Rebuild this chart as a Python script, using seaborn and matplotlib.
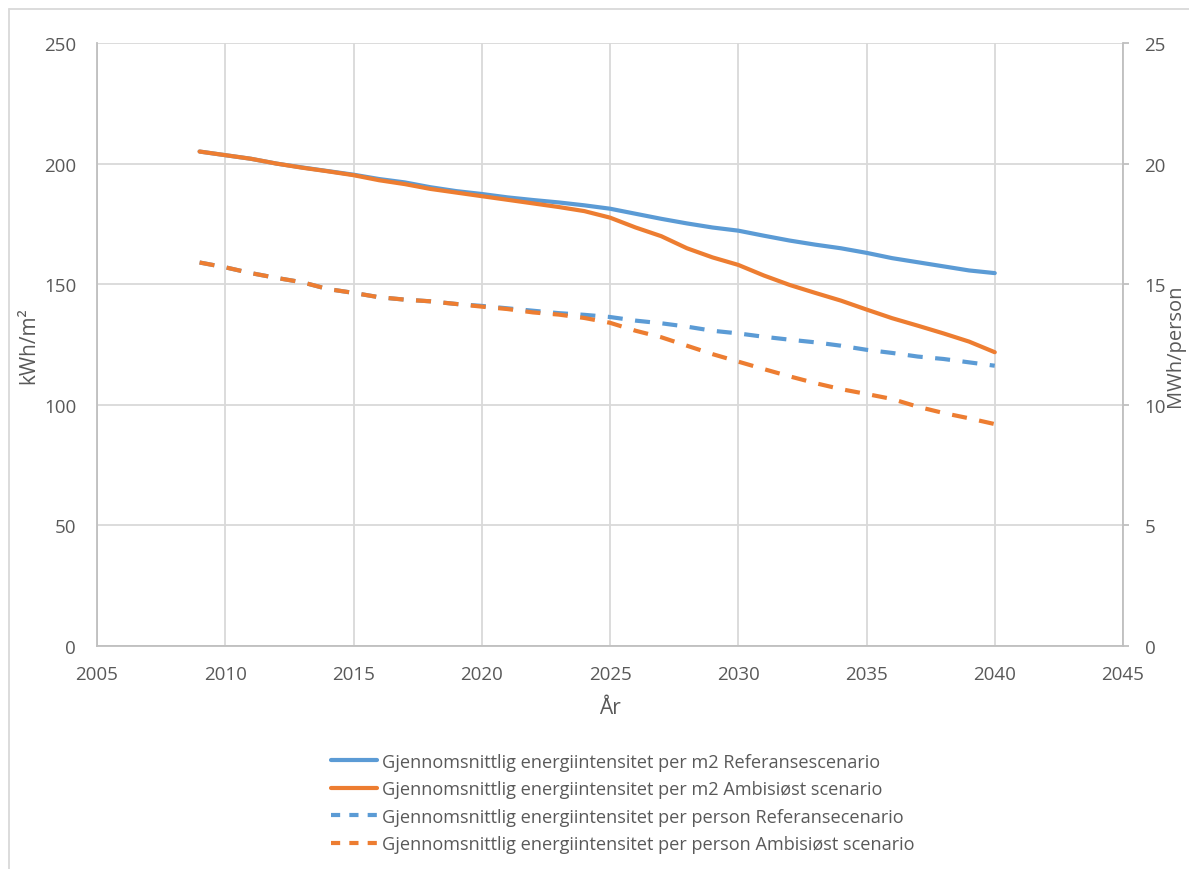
import numpy as np
import pandas as pd
import matplotlib
matplotlib.use("Agg")
import matplotlib.pyplot as plt
from matplotlib.lines import Line2D
import seaborn as sns

# data
years = list(range(2009, 2041))

ref_m2 = [205.0, 203.5, 202.0, 200.0, 198.4, 196.9, 195.4, 193.6, 192.2, 190.2,
          188.6, 187.4, 186.0, 184.9, 183.9, 182.7, 181.3, 179.2, 177.1, 175.2,
          173.5, 172.2, 170.1, 168.1, 166.4, 164.9, 163.0, 160.8, 159.1, 157.4,
          155.7, 154.6]
amb_m2 = [205.0, 203.5, 202.0, 200.0, 198.3, 196.8, 195.2, 193.1, 191.5, 189.5,
          188.0, 186.5, 185.0, 183.5, 182.0, 180.3, 177.6, 173.5, 169.9, 164.9,
          161.1, 158.0, 153.6, 149.7, 146.4, 143.2, 139.5, 135.9, 132.8, 129.6,
          126.2, 121.8]
ref_person = [15.9, 15.7, 15.46, 15.26, 15.08, 14.8, 14.64, 14.46, 14.36, 14.29,
              14.18, 14.1, 14.0, 13.9, 13.8, 13.73, 13.64, 13.49, 13.38, 13.24,
              13.07, 12.96, 12.82, 12.7, 12.59, 12.45, 12.28, 12.15, 12.0, 11.9,
              11.76, 11.62]
amb_person = [15.9, 15.7, 15.46, 15.26, 15.08, 14.8, 14.64, 14.46, 14.36, 14.29,
              14.18, 14.07, 13.97, 13.83, 13.74, 13.6, 13.4, 13.07, 12.8, 12.45,
              12.1, 11.79, 11.48, 11.18, 10.9, 10.65, 10.45, 10.24, 9.92, 9.66,
              9.44, 9.2]

labels = ["Gjennomsnittlig energiintensitet per m2 Referansescenario",
          "Gjennomsnittlig energiintensitet per m2 Ambisiøst scenario",
          "Gjennomsnittlig energiintensitet per person Referansecenario",
          "Gjennomsnittlig energiintensitet per person Ambisiøst scenario"]

blue = "#5B9BD5"
orange = "#ED7D31"
grey_txt = "#595959"
grid_c = "#D9D9D9"

sns.set_theme(style="white")
plt.rcParams["font.family"] = ["Open Sans", "DejaVu Sans"]

fig = plt.figure(figsize=(11.89, 8.70), dpi=100)
ax = fig.add_axes([97/1189, 1 - 647/870, (1123-97)/1189, (647-44)/870])
ax2 = ax.twinx()

df = pd.DataFrame({"year": years, "ref_m2": ref_m2, "amb_m2": amb_m2,
                   "ref_person": ref_person, "amb_person": amb_person})

lw = 3.0
dash = (3.6, 3.0)
sns.lineplot(data=df, x="year", y="ref_m2", ax=ax, color=blue, lw=lw, zorder=3)
sns.lineplot(data=df, x="year", y="amb_m2", ax=ax, color=orange, lw=lw, zorder=4)
sns.lineplot(data=df, x="year", y="ref_person", ax=ax2, color=blue, lw=lw, zorder=3)
sns.lineplot(data=df, x="year", y="amb_person", ax=ax2, color=orange, lw=lw, zorder=4)
for ln in ax2.get_lines():
    ln.set_dashes(dash)
    ln.set_dash_capstyle("butt")

ax.set_xlim(2005, 2045)
ax.set_ylim(0, 250)
ax2.set_ylim(0, 25)
ax.set_xticks(range(2005, 2046, 5))
ax.set_yticks(range(0, 251, 50))
ax2.set_yticks(range(0, 26, 5))

ax.grid(True, color=grid_c, lw=1.3)
ax.set_axisbelow(True)
ax2.grid(False)

for a in (ax, ax2):
    for s in a.spines.values():
        s.set_visible(False)
ax.spines["left"].set_visible(True)
ax.spines["left"].set_color("#BFBFBF")
ax.spines["bottom"].set_visible(True)
ax.spines["bottom"].set_color("#BFBFBF")
ax2.spines["right"].set_visible(True)
ax2.spines["right"].set_color("#BFBFBF")
for s in ("left", "bottom"):
    ax.spines[s].set_linewidth(1.3)
ax2.spines["right"].set_linewidth(1.3)

ax.tick_params(axis="both", length=0, labelsize=13.5, colors=grey_txt)
ax.tick_params(axis="x", pad=14)
ax.tick_params(axis="y", pad=15)
ax2.tick_params(axis="y", length=4.5, width=1.3, color="#BFBFBF", labelsize=13.5,
                labelcolor=grey_txt, pad=11)

ax.set_xlabel("År", fontsize=15, color=grey_txt, labelpad=10)
ax.set_ylabel("kWh/m²", fontsize=15, color=grey_txt, labelpad=3)
ax2.set_ylabel("MWh/person", fontsize=14.5, color=grey_txt, labelpad=-1)

handles = [Line2D([], [], color=blue, lw=lw),
           Line2D([], [], color=orange, lw=lw),
           Line2D([], [], color=blue, lw=lw, dashes=(2.2, 2.2), dash_capstyle="butt"),
           Line2D([], [], color=orange, lw=lw, dashes=(2.2, 2.2), dash_capstyle="butt")]
leg = fig.legend(handles, labels, loc="center", bbox_to_anchor=(623/1189, 1 - 804/870),
                 ncol=1, frameon=False, fontsize=13.1, handlelength=2.5,
                 handletextpad=0.3, labelspacing=0.52, labelcolor=grey_txt)

# outer chart border
fig.add_artist(Line2D([9/1189, 1], [1 - 10/870, 1 - 10/870], color="#D9D9D9", lw=1.3))
fig.add_artist(Line2D([9/1189, 9/1189], [0, 1 - 10/870], color="#D9D9D9", lw=1.3))

fig.savefig("out.png", dpi=100)
